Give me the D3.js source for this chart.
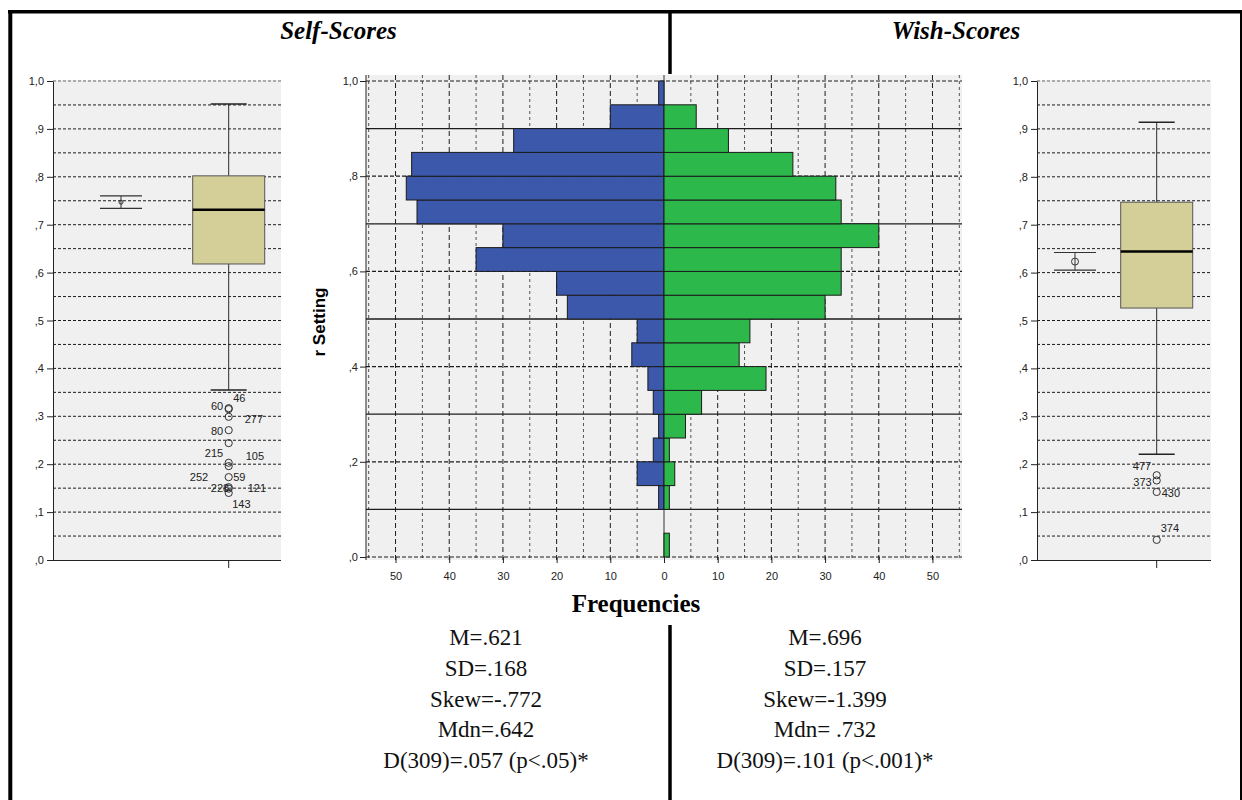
<!DOCTYPE html>
<html>
<head>
<meta charset="utf-8">
<script src="https://cdn.jsdelivr.net/npm/d3@7"></script>
<style>
  body { margin: 0; background: #fff; }
  svg { display: block; }
  .tk text { font-family: "Liberation Sans", Arial, sans-serif; font-size: 11px; fill: #222; }
  .tk line, .tk path { stroke: #222; }
</style>
</head>
<body>
<svg id="chart" width="1242" height="800"></svg>
<script>
// ---- data ----
const binStarts = [0, .05, .10, .15, .20, .25, .30, .35, .40, .45, .50, .55, .60, .65, .70, .75, .80, .85, .90, .95];
const selfFreq = [0, 0, 1, 5, 2, 1, 2, 3, 6, 5, 18, 20, 35, 30, 46, 48, 47, 28, 10, 1];
const wishFreq = [1, 0, 1, 2, 1, 4, 7, 19, 14, 16, 30, 33, 33, 40, 33, 32, 24, 12, 6, 0];

const histYTicks = [0, .2, .4, .6, .8, 1];
const histYLabels = [',0', ',2', ',4', ',6', ',8', '1,0'];
const histXTicks = [-50, -40, -30, -20, -10, 0, 10, 20, 30, 40, 50];
const histXLabels = ['50', '40', '30', '20', '10', '0', '10', '20', '30', '40', '50'];

const boxTicks = [0, .1, .2, .3, .4, .5, .6, .7, .8, .9, 1];
const boxLabels = [',0', ',1', ',2', ',3', ',4', ',5', ',6', ',7', ',8', ',9', '1,0'];

// whisker low, q1, median, q3, whisker high
const leftBox = [0.355, 0.618, 0.731, 0.802, 0.952];
const leftMeanCI = [0.734, 0.747, 0.760];
const leftOutlierIds = ['46', '60', '277', '80', '215', '105', '252', '59', '228', '121', '143'];
const leftOutlierValues = [0.317, 0.315, 0.299, 0.271, 0.244, 0.203, 0.196, 0.173, 0.152, 0.149, 0.140];

const rightBox = [0.221, 0.526, 0.644, 0.747, 0.914];
const rightMeanCI = [0.605, 0.623, 0.642];
const rightOutlierIds = ['477', '373', '430', '374'];
const rightOutlierValues = [0.177, 0.166, 0.142, 0.042];

const selfStats = ['M=.621', 'SD=.168', 'Skew=-.772', 'Mdn=.642', 'D(309)=.057 (p<.05)*'];
const wishStats = ['M=.696', 'SD=.157', 'Skew=-1.399', 'Mdn= .732', 'D(309)=.101 (p<.001)*'];

// label placement for the outlier ids (offset from the circle, anchor)
const leftLabelLayout = [
  [4.5, -6, 'start'], [-5.5, 1, 'end'], [16, 6, 'start'], [-5.5, 5, 'end'],
  [-5.5, 14, 'end'], [17, -3, 'start'], [-20.5, 15, 'end'], [4.5, 4, 'start'],
  [0.5, 5, 'end'], [19, 3.5, 'start'], [3.5, 15, 'start']
];
const rightLabelLayout = [[-5.5, -5.5, 'end'], [-5, 5.5, 'end'], [5, 4.7, 'start'], [4, -8, 'start']];

const svg = d3.select('#chart');
const serif = '"Liberation Serif", "Times New Roman", serif';
const sans = '"Liberation Sans", Arial, sans-serif';
const gridGrey = '#1c1c1c';

// ---- box plot panels ----
function boxPanel(cfg) {
  const y = d3.scaleLinear().domain([0, 1]).range([560, 81]);
  const x = d3.scalePoint().domain(['mean', 'box']).range(cfg.centers);
  const g = svg.append('g');
  const bx = x('box');
  const [lo, q1, med, q3, hi] = cfg.box;

  g.append('rect')
    .attr('x', cfg.left).attr('y', 80)
    .attr('width', cfg.right - cfg.left).attr('height', 480)
    .attr('fill', '#f0f0f0');

  // dashed grid every .05
  g.selectAll('line.grid')
    .data(d3.range(1, 21).map(i => i * 0.05))
    .join('line')
    .attr('class', 'grid')
    .attr('x1', cfg.left).attr('x2', cfg.right)
    .attr('y1', d => y(d)).attr('y2', d => y(d))
    .attr('stroke', d => d > 0.99 ? '#666' : gridGrey)
    .attr('stroke-width', 1)
    .attr('stroke-dasharray', '3,2');

  g.append('g')
    .attr('class', 'tk')
    .attr('transform', `translate(${cfg.left},0)`)
    .call(d3.axisLeft(y).tickValues(boxTicks)
      .tickFormat((d, i) => boxLabels[i]).tickSize(6).tickPadding(3).tickSizeOuter(0));

  // bottom axis
  g.append('line')
    .attr('x1', cfg.left).attr('x2', cfg.right)
    .attr('y1', 560.5).attr('y2', 560.5)
    .attr('stroke', '#222');
  g.append('line')
    .attr('x1', bx).attr('x2', bx)
    .attr('y1', 560).attr('y2', 568)
    .attr('stroke', '#222');

  // whiskers
  const wk = '#2a2a2a';
  g.append('line').attr('x1', bx).attr('x2', bx).attr('y1', y(hi)).attr('y2', y(q3)).attr('stroke', wk);
  g.append('line').attr('x1', bx).attr('x2', bx).attr('y1', y(q1)).attr('y2', y(lo)).attr('stroke', wk);
  [hi, lo].forEach(v => {
    g.append('line')
      .attr('x1', bx - 18).attr('x2', bx + 18)
      .attr('y1', y(v)).attr('y2', y(v))
      .attr('stroke', '#222').attr('stroke-width', 1.5);
  });

  g.append('rect')
    .attr('x', bx - 36).attr('y', y(q3))
    .attr('width', 72).attr('height', y(q1) - y(q3))
    .attr('fill', '#d4cf98').attr('stroke', '#555').attr('stroke-width', 1);
  g.append('line')
    .attr('x1', bx - 36).attr('x2', bx + 36)
    .attr('y1', y(med)).attr('y2', y(med))
    .attr('stroke', '#000').attr('stroke-width', 2.5);

  // outliers
  g.selectAll('circle.out')
    .data(cfg.outValues)
    .join('circle')
    .attr('class', 'out')
    .attr('cx', bx).attr('cy', d => y(d))
    .attr('r', 3.6)
    .attr('fill', 'none').attr('stroke', '#333').attr('stroke-width', 1);

  g.selectAll('text.oid')
    .data(cfg.outIds)
    .join('text')
    .attr('class', 'oid')
    .attr('x', (d, i) => bx + cfg.layout[i][0])
    .attr('y', (d, i) => y(cfg.outValues[i]) + cfg.layout[i][1])
    .attr('text-anchor', (d, i) => cfg.layout[i][2])
    .attr('font-family', sans).attr('font-size', 11).attr('fill', '#222')
    .text(d => d);

  // mean with CI
  const mx = x('mean');
  const [cLo, cMean, cHi] = cfg.ci;
  g.append('line').attr('x1', mx).attr('x2', mx).attr('y1', y(cHi)).attr('y2', y(cLo)).attr('stroke', '#333');
  [cHi, cLo].forEach(v => {
    g.append('line')
      .attr('x1', mx - 21).attr('x2', mx + 21)
      .attr('y1', y(v)).attr('y2', y(v))
      .attr('stroke', '#333').attr('stroke-width', 1.2);
  });
  g.append('circle')
    .attr('cx', mx).attr('cy', y(cMean)).attr('r', cfg.meanR)
    .attr('fill', 'none').attr('stroke', '#333');
}

boxPanel({
  left: 53, right: 281, centers: [121, 228.7],
  box: leftBox, ci: leftMeanCI, meanR: 2,
  outIds: leftOutlierIds, outValues: leftOutlierValues, layout: leftLabelLayout
});
boxPanel({
  left: 1037, right: 1211, centers: [1075, 1156.7],
  box: rightBox, ci: rightMeanCI, meanR: 3.5,
  outIds: rightOutlierIds, outValues: rightOutlierValues, layout: rightLabelLayout
});

// ---- back-to-back histogram ----
const hx = d3.scaleLinear().domain([-55.5, 55.5]).range([366, 962]);
const hy = d3.scaleLinear().domain([0, 1]).range([557, 81]);
const h = svg.append('g');

h.append('rect')
  .attr('x', 366).attr('y', 75)
  .attr('width', 596).attr('height', 485)
  .attr('fill', '#f0f0f0');

h.selectAll('line.vgrid')
  .data(d3.range(-55, 56, 5).filter(v => v !== 0))
  .join('line')
  .attr('class', 'vgrid')
  .attr('x1', d => hx(d)).attr('x2', d => hx(d))
  .attr('y1', 75).attr('y2', 560)
  .attr('stroke', gridGrey)
  .attr('stroke-opacity', d => d % 10 === 0 ? 1 : 0.75)
  .attr('stroke-dasharray', d => d % 10 === 0 ? '5,3' : '3,3');

h.selectAll('line.hgrid')
  .data(d3.range(0, 11).map(i => i / 10))
  .join('line')
  .attr('class', 'hgrid')
  .attr('x1', 366).attr('x2', 962)
  .attr('y1', d => hy(d)).attr('y2', d => hy(d))
  .attr('stroke', gridGrey)
  .attr('stroke-width', d => Math.round(d * 10) % 2 ? 1.3 : 1.2)
  .attr('stroke-dasharray', d => Math.round(d * 10) % 2 ? null : '4,2');

h.append('line')
  .attr('x1', hx(0)).attr('x2', hx(0))
  .attr('y1', 75).attr('y2', 557)
  .attr('stroke', '#333');

const binW = 0.05;
h.selectAll('rect.self')
  .data(binStarts.map((b, i) => ({ b, n: selfFreq[i] })).filter(d => d.n > 0))
  .join('rect')
  .attr('class', 'self')
  .attr('x', d => hx(-d.n)).attr('y', d => hy(d.b + binW))
  .attr('width', d => hx(0) - hx(-d.n)).attr('height', d => hy(d.b) - hy(d.b + binW))
  .attr('fill', '#3b58aa').attr('stroke', '#1b1b1b').attr('stroke-width', 1);

h.selectAll('rect.wish')
  .data(binStarts.map((b, i) => ({ b, n: wishFreq[i] })).filter(d => d.n > 0))
  .join('rect')
  .attr('class', 'wish')
  .attr('x', hx(0)).attr('y', d => hy(d.b + binW))
  .attr('width', d => hx(d.n) - hx(0)).attr('height', d => hy(d.b) - hy(d.b + binW))
  .attr('fill', '#2db84b').attr('stroke', '#1b1b1b').attr('stroke-width', 1);

h.append('g')
  .attr('class', 'tk')
  .attr('transform', 'translate(366,0)')
  .call(d3.axisLeft(hy).tickValues(histYTicks)
    .tickFormat((d, i) => histYLabels[i]).tickSize(6).tickPadding(2).tickSizeOuter(0))
  .call(a => a.select('.domain').remove());
h.append('line')
  .attr('x1', 366).attr('x2', 366).attr('y1', 75).attr('y2', 560)
  .attr('stroke', '#222');

h.append('g')
  .attr('class', 'tk')
  .attr('transform', 'translate(0,557)')
  .call(d3.axisBottom(hx).tickValues(histXTicks)
    .tickFormat((d, i) => histXLabels[i]).tickSize(6).tickPadding(9).tickSizeOuter(0))
  .call(a => a.select('.domain').remove());

svg.append('text')
  .attr('transform', 'translate(325,322) rotate(-90)')
  .attr('text-anchor', 'middle')
  .attr('font-family', sans).attr('font-weight', 'bold').attr('font-size', 17)
  .text('r Setting');

svg.append('text')
  .attr('x', 636).attr('y', 612)
  .attr('text-anchor', 'middle')
  .attr('font-family', serif).attr('font-weight', 'bold').attr('font-size', 25)
  .text('Frequencies');

// ---- titles ----
[['Self-Scores', 338.5], ['Wish-Scores', 956]].forEach(([t, cx]) => {
  svg.append('text')
    .attr('x', cx).attr('y', 39)
    .attr('text-anchor', 'middle')
    .attr('font-family', serif).attr('font-weight', 'bold').attr('font-style', 'italic')
    .attr('font-size', 25)
    .text(t);
});

// ---- summary statistics ----
[[selfStats, 486], [wishStats, 825]].forEach(([lines, cx]) => {
  svg.selectAll(null)
    .data(lines)
    .join('text')
    .attr('x', cx).attr('y', (d, i) => 645 + i * 30.75)
    .attr('text-anchor', 'middle')
    .attr('font-family', serif).attr('font-size', 23).attr('fill', '#111')
    .text(d => d);
});

// ---- frame ----
const frame = svg.append('g').attr('stroke', '#000');
frame.append('line').attr('x1', 8).attr('x2', 1243).attr('y1', 11.7).attr('y2', 11.7).attr('stroke-width', 3.5);
frame.append('line').attr('x1', 10.3).attr('x2', 10.3).attr('y1', 10).attr('y2', 800).attr('stroke-width', 4);
frame.append('line').attr('x1', 1241.5).attr('x2', 1241.5).attr('y1', 10).attr('y2', 800).attr('stroke-width', 3);
frame.append('line').attr('x1', 670).attr('x2', 670).attr('y1', 10).attr('y2', 74).attr('stroke-width', 3.5);
frame.append('line').attr('x1', 670).attr('x2', 670).attr('y1', 625).attr('y2', 800).attr('stroke-width', 3.5);
</script>
</body>
</html>
